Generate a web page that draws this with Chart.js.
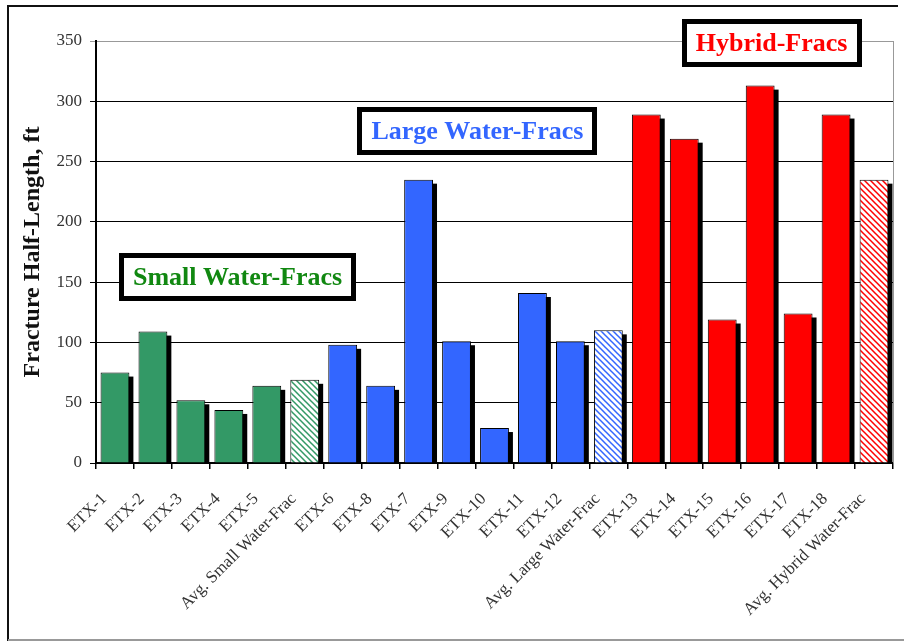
<!DOCTYPE html>
<html>
<head>
<meta charset="utf-8">
<script src="https://cdn.jsdelivr.net/npm/chart.js@4/dist/chart.umd.min.js"></script>
<style>
  html, body { margin: 0; padding: 0; background: #fff; }
  #wrap { width: 904px; height: 641px; }
</style>
</head>
<body>
<div id="wrap"><canvas id="c" width="904" height="641"></canvas></div>
<script>
// Fracture half-length by well, grouped by treatment type
const smallLabels = ['ETX-1', 'ETX-2', 'ETX-3', 'ETX-4', 'ETX-5', 'Avg. Small Water-Frac'];
const smallValues = [75, 109, 52, 44, 64, 69];

const largeLabels = ['ETX-6', 'ETX-8', 'ETX-7', 'ETX-9', 'ETX-10', 'ETX-11', 'ETX-12', 'Avg. Large Water-Frac'];
const largeValues = [98, 64, 235, 101, 29, 141, 101, 110];

const hybridLabels = ['ETX-13', 'ETX-14', 'ETX-15', 'ETX-16', 'ETX-17', 'ETX-18', 'Avg. Hybrid Water-Frac'];
const hybridValues = [289, 269, 119, 313, 124, 289, 235];

const groupTitles = ['Small Water-Fracs', 'Large Water-Fracs', 'Hybrid-Fracs'];
const yTickValues = [0, 50, 100, 150, 200, 250, 300, 350];
const yAxisTitle = 'Fracture Half-Length, ft';

// Group colours
const groupColors = ['#339966', '#3366FF', '#FF0000'];
const groupTextColors = ['#118811', '#3366FF', '#FF0000'];

// Diagonal hatch used for the group averages
function hatch(color) {
  const s = 6;
  const c = document.createElement('canvas');
  c.width = s; c.height = s;
  const g = c.getContext('2d');
  g.fillStyle = '#fff';
  g.fillRect(0, 0, s, s);
  g.strokeStyle = color;
  g.lineWidth = 1.5;
  g.beginPath();
  g.moveTo(-1, -1); g.lineTo(s + 1, s + 1);
  g.moveTo(-1, s - 1); g.lineTo(1, s + 1);
  g.moveTo(s - 1, -1); g.lineTo(s + 1, 1);
  g.stroke();
  return g.createPattern(c, 'repeat');
}

const groups = [
  { labels: smallLabels, values: smallValues },
  { labels: largeLabels, values: largeValues },
  { labels: hybridLabels, values: hybridValues }
];

const labels = [];
const values = [];
const fills = [];
groups.forEach((grp, gi) => {
  grp.labels.forEach((lab, i) => {
    labels.push(lab);
    values.push(grp.values[i]);
    const isAvg = i === grp.labels.length - 1;
    fills.push(isAvg ? hatch(groupColors[gi]) : groupColors[gi]);
  });
});

// Where each group caption box sits, in axis units (category index, feet)
const captionAnchors = [
  { x: 3.23, y: 154 },
  { x: 9.55, y: 275 },
  { x: 17.30, y: 348 }
];

// Solid drop shadow behind each bar, taken from the bar elements' geometry
const barShadow = {
  id: 'barShadow',
  beforeDatasetsDraw(chart) {
    const ctx = chart.ctx;
    const a = chart.chartArea;
    const off = 4;
    ctx.save();
    ctx.beginPath();
    ctx.rect(a.left, a.top, a.right - a.left, a.bottom - a.top);
    ctx.clip();
    ctx.fillStyle = '#000';
    chart.getDatasetMeta(0).data.forEach((bar) => {
      const p = bar.getProps(['x', 'y', 'base', 'width'], true);
      const left = p.x - p.width / 2 + off;
      const top = Math.min(p.y, p.base) + off;
      const h = Math.abs(p.base - p.y);
      ctx.fillRect(left, top, p.width, h);
    });
    ctx.restore();
  }
};

const captions = {
  id: 'captions',
  afterDatasetsDraw(chart) {
    const ctx = chart.ctx;
    const xs = chart.scales.x, ys = chart.scales.y;
    ctx.save();
    ctx.font = 'bold 26px "Liberation Serif", "Times New Roman", serif';
    ctx.textAlign = 'center';
    ctx.textBaseline = 'middle';
    groupTitles.forEach((t, i) => {
      const cx = xs.getPixelForValue(captionAnchors[i].x);
      const cy = ys.getPixelForValue(captionAnchors[i].y);
      const w = ctx.measureText(t).width + 28;
      const h = 48;
      const b = 5;
      ctx.fillStyle = '#000';
      ctx.fillRect(Math.round(cx - w / 2), Math.round(cy - h / 2), Math.round(w), h);
      ctx.fillStyle = '#fff';
      ctx.fillRect(Math.round(cx - w / 2) + b, Math.round(cy - h / 2) + b, Math.round(w) - 2 * b, h - 2 * b);
      ctx.fillStyle = groupTextColors[i];
      ctx.fillText(t, cx, cy + 1);
    });
    ctx.restore();
  }
};

const frame = {
  id: 'frame',
  beforeDraw(chart) {
    const ctx = chart.ctx;
    ctx.save();
    ctx.fillStyle = '#fff';
    ctx.fillRect(0, 0, chart.width, chart.height);
    ctx.restore();
  },
  afterDraw(chart) {
    const ctx = chart.ctx;
    const a = chart.chartArea;
    ctx.save();
    // plot area right edge
    ctx.strokeStyle = '#999';
    ctx.lineWidth = 1;
    ctx.beginPath();
    ctx.moveTo(Math.round(a.right) + 0.5, a.top);
    ctx.lineTo(Math.round(a.right) + 0.5, a.bottom);
    ctx.stroke();
    // outer frame
    ctx.strokeStyle = '#111';
    ctx.lineWidth = 2;
    ctx.beginPath();
    ctx.moveTo(8, 641);
    ctx.lineTo(8, 6);
    ctx.lineTo(898, 6);
    ctx.stroke();
    ctx.strokeStyle = '#999';
    ctx.beginPath();
    ctx.moveTo(8, 640);
    ctx.lineTo(904, 640);
    ctx.stroke();
    ctx.restore();
  }
};

new Chart(document.getElementById('c'), {
  type: 'bar',
  data: {
    labels: labels,
    datasets: [{
      data: values,
      backgroundColor: fills,
      borderColor: '#000',
      borderWidth: 1,
      barPercentage: 0.76,
      categoryPercentage: 1.0,
      clip: 0
    }]
  },
  options: {
    responsive: false,
    devicePixelRatio: 1,
    animation: false,
    layout: { padding: { left: 8, right: 11, top: 41, bottom: 0 } },
    plugins: {
      legend: { display: false },
      tooltip: { enabled: false }
    },
    scales: {
      x: {
        afterFit(scale) {
          scale.height = 178;
          scale.paddingLeft = 0;
          scale.paddingRight = 0;
        },
        border: { color: '#000', width: 2 },
        grid: {
          offset: true,
          drawOnChartArea: false,
          drawTicks: true,
          tickLength: 6,
          color: '#000',
          lineWidth: 1.5
        },
        ticks: {
          autoSkip: false,
          maxRotation: 45,
          minRotation: 45,
          padding: 20,
          labelOffset: -11,
          color: '#333',
          font: { family: '"Liberation Serif", "Times New Roman", serif', size: 17 }
        }
      },
      y: {
        min: 0,
        max: 350,
        afterFit(scale) { scale.width = 88; },
        afterBuildTicks(scale) { scale.ticks = yTickValues.map(v => ({ value: v })); },
        border: { color: '#000', width: 2 },
        grid: {
          color: (c) => (c.tick && c.tick.value === 350 ? '#999' : '#000'),
          lineWidth: 1,
          tickLength: 6
        },
        ticks: {
          padding: 8,
          color: '#333',
          font: { family: '"Liberation Serif", "Times New Roman", serif', size: 17 }
        },
        title: {
          display: true,
          text: yAxisTitle,
          color: '#111',
          padding: { top: 10, bottom: 0 },
          font: { family: '"Liberation Serif", "Times New Roman", serif', size: 24, weight: 'bold' }
        }
      }
    }
  },
  plugins: [frame, barShadow, captions]
});
</script>
</body>
</html>
